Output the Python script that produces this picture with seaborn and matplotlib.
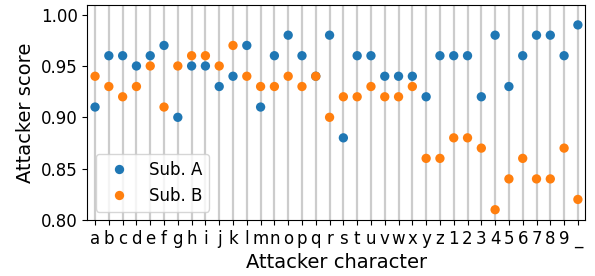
import pandas as pd
import numpy as np
import matplotlib.pyplot as plt
import seaborn as sns

chars = list("abcdefghijklmnopqrstuvwxyz123456789_")
sub_a = [0.91, 0.96, 0.96, 0.95, 0.96, 0.97, 0.90, 0.95, 0.95, 0.93, 0.94, 0.97,
         0.91, 0.96, 0.98, 0.96, 0.94, 0.98, 0.88, 0.96, 0.96, 0.94, 0.94, 0.94,
         0.92, 0.96, 0.96, 0.96, 0.92, 0.98, 0.93, 0.96, 0.98, 0.98, 0.96, 0.99]
sub_b = [0.94, 0.93, 0.92, 0.93, 0.95, 0.91, 0.95, 0.96, 0.96, 0.95, 0.97, 0.94,
         0.93, 0.93, 0.94, 0.93, 0.94, 0.90, 0.92, 0.92, 0.93, 0.92, 0.92, 0.93,
         0.86, 0.86, 0.88, 0.88, 0.87, 0.81, 0.84, 0.86, 0.84, 0.84, 0.87, 0.82]
series = ["Sub. A", "Sub. B"]

df = pd.concat([
    pd.DataFrame({"char": chars, "score": sub_a, "sub": series[0]}),
    pd.DataFrame({"char": chars, "score": sub_b, "sub": series[1]}),
])

fig = plt.figure(figsize=(5.95, 2.76), dpi=100)
ax = fig.add_axes([0.147, 0.203, 0.837, 0.78])

sns.scatterplot(data=df, x="char", y="score", hue="sub",
                palette=["#1f77b4", "#ff7f0e"], s=45, edgecolor="none",
                ax=ax, zorder=3)

ax.grid(axis="x", color="#cccccc", linewidth=1.6)
ax.set_axisbelow(True)
ax.set_xlim(-0.55, len(chars) - 0.45)
ax.set_ylim(0.80, 1.0097)
ax.set_yticks([0.80, 0.85, 0.90, 0.95, 1.00])
ax.tick_params(axis="both", labelsize=12)
ax.set_xlabel("Attacker character", fontsize=14)
ax.set_ylabel("Attacker score", fontsize=14)
ax.legend(title=None, loc="lower left", fontsize=12, markerscale=1.0)

fig.savefig("out.png", dpi=100)
